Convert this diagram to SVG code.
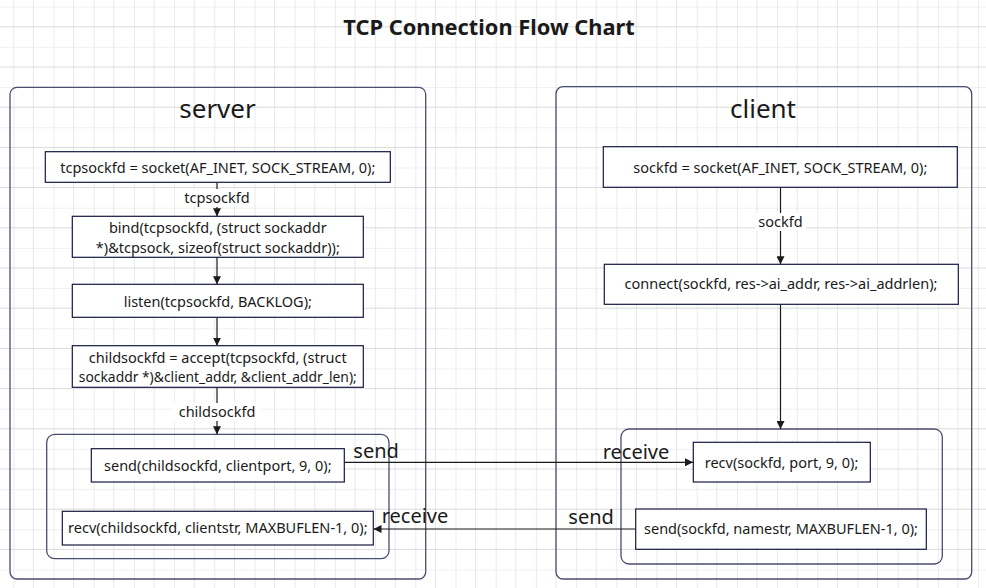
<svg xmlns="http://www.w3.org/2000/svg" width="986" height="588" viewBox="0 0 986 588">
  <defs>
    <pattern id="grid" x="13.3" y="6.7" width="40.2" height="40.2" patternUnits="userSpaceOnUse">
      <line x1="0" y1="0" x2="0" y2="40.2" stroke="#d8d8d8" stroke-width="1"/>
      <line x1="20.1" y1="0" x2="20.1" y2="40.2" stroke="#e6e6e6" stroke-width="1"/>
      <line x1="0" y1="0" x2="40.2" y2="0" stroke="#e2e2e2" stroke-width="1"/>
      <line x1="0" y1="20.1" x2="40.2" y2="20.1" stroke="#dadada" stroke-width="1"/>
    </pattern>
    <marker id="arr" viewBox="0 0 10 10" refX="10" refY="5" markerWidth="8" markerHeight="8" markerUnits="userSpaceOnUse" orient="auto">
      <path d="M0,0 L10,5 L0,10 z" fill="#1a1a1a"/>
    </marker>
    <style>
      .cont { fill: none; stroke: #4a4e6e; stroke-width: 1.3; }
      .node rect { fill: #ffffff; stroke: #141a40; stroke-width: 1.2; }
      .txt { font-family: "Noto Sans", "Open Sans", sans-serif; font-size: 14.5px; fill: #1a1a1a; text-anchor: middle; }
      .big { font-family: "Noto Sans", "Open Sans", sans-serif; font-size: 26px; fill: #1a1a1a; text-anchor: middle; }
      .lbl { font-family: "Noto Sans", "Open Sans", sans-serif; font-size: 20px; fill: #1a1a1a; }
      .edge { fill: none; stroke: #1a1a1a; stroke-width: 1.2; }
      .lbg { fill: #ffffff; }
    </style>
  </defs>
  <rect width="986" height="588" fill="#ffffff"/>
  <rect width="986" height="588" fill="url(#grid)"/>

  <text x="489" y="35" font-family="Noto Sans, sans-serif" font-weight="bold" font-size="21.8px" fill="#1a1a1a" text-anchor="middle">TCP Connection Flow Chart</text>

  <g id="server">
    <rect class="cont" x="10" y="87.3" width="415.7" height="491.7" rx="7"/>
    <text class="big" x="217.5" y="118">server</text>
  </g>
  <g id="client">
    <rect class="cont" x="556" y="86.7" width="415.7" height="492.3" rx="7"/>
    <text class="big" x="763" y="118">client</text>
  </g>
  <g id="server-io">
    <rect class="cont" x="46.7" y="434.3" width="342.3" height="124.4" rx="8"/>
  </g>
  <g id="client-io">
    <rect class="cont" x="621" y="429" width="321.3" height="135" rx="8"/>
  </g>

  <g id="connectors">
    <line class="edge" x1="217" y1="182.3" x2="217" y2="216.3" marker-end="url(#arr)"/>
    <line class="edge" x1="217" y1="257.3" x2="217" y2="284.3" marker-end="url(#arr)"/>
    <line class="edge" x1="217" y1="317.3" x2="217" y2="345.7" marker-end="url(#arr)"/>
    <line class="edge" x1="217" y1="387.3" x2="217" y2="434.3" marker-end="url(#arr)"/>
    <line class="edge" x1="780.5" y1="187.3" x2="780.5" y2="264.3" marker-end="url(#arr)"/>
    <line class="edge" x1="780.5" y1="304.3" x2="780.5" y2="429" marker-end="url(#arr)"/>
    <line class="edge" x1="344.3" y1="462.3" x2="693" y2="462.3" marker-end="url(#arr)"/>
    <line class="edge" x1="635.7" y1="529" x2="373.5" y2="529" marker-end="url(#arr)"/>
    <rect class="lbg" x="181" y="189" width="72" height="18"/>
    <text class="txt" x="217" y="202.7">tcpsockfd</text>
    <rect class="lbg" x="174" y="403" width="86" height="18"/>
    <text class="txt" x="217" y="416.7">childsockfd</text>
    <rect class="lbg" x="755" y="213" width="51" height="18"/>
    <text class="txt" x="780.5" y="226.7">sockfd</text>
    <text class="lbl" x="353.3" y="458.3">send</text>
    <text class="lbl" x="602.7" y="459.3">receive</text>
    <text class="lbl" x="568.3" y="524.3">send</text>
    <text class="lbl" x="381.7" y="523.3">receive</text>
  </g>

  <g id="n-socket" class="node">
    <rect x="45.3" y="151.7" width="345" height="30.6"/>
    <text class="txt" x="217.8" y="173.3">tcpsockfd = socket(AF_INET, SOCK_STREAM, 0);</text>
  </g>
  <g id="n-bind" class="node">
    <rect x="72.3" y="216.3" width="291" height="41"/>
    <text class="txt" x="217.8" y="233.3">bind(tcpsockfd, (struct sockaddr</text>
    <text class="txt" x="217.8" y="252.5">*)&amp;tcpsock, sizeof(struct sockaddr));</text>
  </g>
  <g id="n-listen" class="node">
    <rect x="72.3" y="284.3" width="291" height="33"/>
    <text class="txt" x="217.8" y="306.5">listen(tcpsockfd, BACKLOG);</text>
  </g>
  <g id="n-accept" class="node">
    <rect x="72.3" y="345.7" width="291" height="41.6"/>
    <text class="txt" x="217.8" y="362.7">childsockfd = accept(tcpsockfd, (struct</text>
    <text class="txt" x="217.8" y="382.2" textLength="278" lengthAdjust="spacingAndGlyphs">sockaddr *)&amp;client_addr, &amp;client_addr_len);</text>
  </g>
  <g id="n-send-s" class="node">
    <rect x="91.3" y="448.7" width="253" height="33.3"/>
    <text class="txt" x="217.8" y="470.5">send(childsockfd, clientport, 9, 0);</text>
  </g>
  <g id="n-recv-s" class="node">
    <rect x="62.3" y="511.3" width="311" height="33.7"/>
    <text class="txt" x="217.8" y="533.3">recv(childsockfd, clientstr, MAXBUFLEN-1, 0);</text>
  </g>
  <g id="n-socket-c" class="node">
    <rect x="603.3" y="146.7" width="354" height="40.6"/>
    <text class="txt" x="780.3" y="173.3">sockfd = socket(AF_INET, SOCK_STREAM, 0);</text>
  </g>
  <g id="n-connect" class="node">
    <rect x="604.3" y="264.3" width="354" height="40"/>
    <text class="txt" x="781" y="289.3">connect(sockfd, res-&gt;ai_addr, res-&gt;ai_addrlen);</text>
  </g>
  <g id="n-recv-c" class="node">
    <rect x="693.3" y="442.3" width="177" height="39.7"/>
    <text class="txt" x="781.5" y="467.7">recv(sockfd, port, 9, 0);</text>
  </g>
  <g id="n-send-c" class="node">
    <rect x="635.7" y="509" width="290.6" height="40.3"/>
    <text class="txt" x="781" y="534.3">send(sockfd, namestr, MAXBUFLEN-1, 0);</text>
  </g>
</svg>
